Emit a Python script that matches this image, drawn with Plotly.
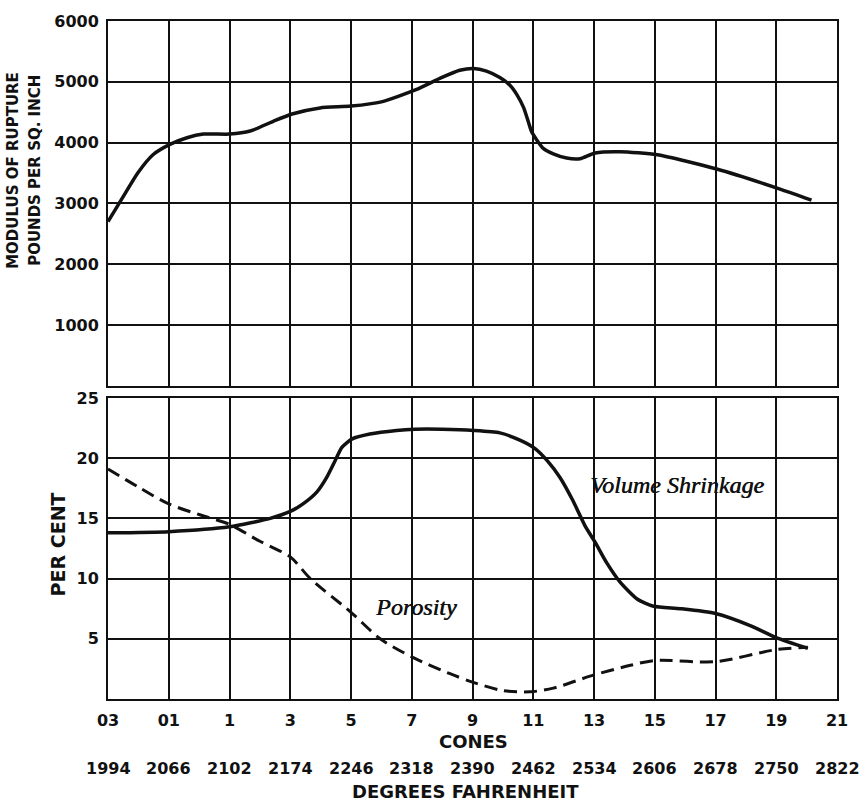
import plotly.graph_objects as go

# Cone numbers along the bottom axis, with the matching temperatures
cones = ["03", "01", "1", "3", "5", "7", "9", "11", "13", "15", "17", "19", "21"]
degrees_f = ["1994", "2066", "2102", "2174", "2246", "2318", "2390",
             "2462", "2534", "2606", "2678", "2750", "2822"]

# Modulus of rupture (lb per sq. inch), x given as position on the cone scale
modulus_pos = [0, 0.25, 0.49, 0.74, 1.02, 1.3, 1.57, 2.0, 2.34, 2.72, 3.03,
               3.49, 4.0, 4.5, 5.07, 5.47, 5.79, 6.02, 6.23, 6.45,
               6.62, 6.73, 6.84, 6.92, 6.97, 7.06, 7.17, 7.33, 7.55, 7.77,
               8.02, 8.43, 9.04, 10.02, 11.05, 11.58]
modulus = [2700, 3110, 3500, 3800, 3970, 4080, 4140, 4140, 4190, 4350, 4470,
           4570, 4600, 4670, 4870, 5060, 5190, 5220, 5175, 5070,
           4940, 4790, 4580, 4340, 4185, 4040, 3900, 3815, 3745, 3735,
           3830, 3850, 3800, 3565, 3240, 3055]

# Volume shrinkage (per cent)
shrink_pos = [0, 1, 2, 2.67, 3.01, 3.21, 3.44, 3.6, 3.74, 3.85, 4.02, 4.31,
              4.75, 5.05, 5.5, 6.02, 6.45, 6.78, 7.03, 7.23, 7.44, 7.65, 7.85,
              8.02, 8.21, 8.43, 8.71, 8.98, 9.42, 10.0, 10.57, 11.0, 11.52]
shrinkage = [13.8, 13.9, 14.3, 15.0, 15.6, 16.2, 17.2, 18.4, 19.8, 20.9,
             21.6, 22.0, 22.3, 22.4, 22.4, 22.3, 22.1, 21.5, 20.8, 19.8, 18.4,
             16.5, 14.4, 13.0, 11.3, 9.7, 8.3, 7.7, 7.5, 7.1, 6.1, 5.1, 4.2]

# Porosity (per cent)
porosity_pos = [0, 0.5, 1, 1.51, 2, 2.5, 3, 3.33, 4, 4.48, 5, 5.63, 6, 6.5,
                6.95, 7.33, 8, 8.6, 9, 10, 11, 11.52]
porosity = [19.1, 17.6, 16.2, 15.3, 14.5, 13.1, 11.8, 10.0, 7.2, 5.0, 3.5, 2.1,
            1.4, 0.7, 0.6, 0.9, 2.0, 2.8, 3.2, 3.1, 4.1, 4.3]

INK = "#111111"
SANS = "DejaVu Sans"
SERIF = "Liberation Serif"
tick_font = dict(family=SANS, size=16, color=INK, weight="bold")

fig = go.Figure()

fig.add_trace(go.Scatter(
    x=modulus_pos, y=modulus, mode="lines", xaxis="x", yaxis="y",
    line=dict(color=INK, width=3.5, shape="spline", smoothing=0.6),
    showlegend=False, hoverinfo="skip"))

fig.add_trace(go.Scatter(
    x=shrink_pos, y=shrinkage, mode="lines", xaxis="x2", yaxis="y2",
    line=dict(color=INK, width=3.5, shape="spline", smoothing=0.6),
    showlegend=False, hoverinfo="skip"))

fig.add_trace(go.Scatter(
    x=porosity_pos, y=porosity, mode="lines", xaxis="x2", yaxis="y2",
    line=dict(color=INK, width=3, shape="spline", smoothing=0.8,
              dash="13px,7px"),
    showlegend=False, hoverinfo="skip"))

grid = dict(showgrid=True, gridcolor=INK, gridwidth=1.6, zeroline=False,
            showline=True, linecolor=INK, linewidth=2, mirror=True, ticks="")

fig.update_layout(
    width=863, height=803,
    margin=dict(l=108, r=26, t=15, b=104),
    paper_bgcolor="white", plot_bgcolor="white",
    xaxis=dict(domain=[0, 1], anchor="y", range=[0, 12],
               tickvals=list(range(13)), showticklabels=False, **grid),
    yaxis=dict(domain=[0.462, 1], anchor="x", range=[0, 6000],
               tickvals=[1000, 2000, 3000, 4000, 5000, 6000],
               ticktext=["1000", "2000", "3000", "4000", "5000", "6000"],
               tickfont=tick_font, ticklabelstandoff=4, **grid),
    xaxis2=dict(domain=[0, 1], anchor="y2", range=[0, 12],
                tickvals=list(range(13)), ticktext=cones,
                tickfont=tick_font, ticklabelstandoff=6, **grid),
    yaxis2=dict(domain=[0, 0.444], anchor="x2", range=[0, 25],
                tickvals=[5, 10, 15, 20, 25],
                tickfont=tick_font, ticklabelstandoff=4, **grid),
)

annotations = []
for i, d in enumerate(degrees_f):
    annotations.append(dict(x=i, xref="x2", y=0, yref="paper", yshift=-69,
                            text=d, showarrow=False, xanchor="center",
                            yanchor="middle", font=tick_font))

title_font = dict(family=SANS, size=18, color=INK, weight="bold")
label_font = dict(family=SERIF, size=24, color=INK, style="italic",
                  shadow="0.6px 0px 0px #111111")
annotations += [
    dict(x=0.502, xref="paper", y=0, yref="paper", yshift=-42, text="CONES",
         showarrow=False, xanchor="center", yanchor="middle", font=title_font),
    dict(x=0.49, xref="paper", y=0, yref="paper", yshift=-92,
         text="DEGREES FAHRENHEIT", showarrow=False, xanchor="center",
         yanchor="middle", font=title_font),
    dict(x=0, xref="paper", xshift=-95, y=0.779, yref="paper",
         text="MODULUS OF RUPTURE", textangle=-90, showarrow=False,
         xanchor="center", yanchor="middle",
         font=dict(family=SANS, size=15, color=INK, weight="bold")),
    dict(x=0, xref="paper", xshift=-73, y=0.779, yref="paper",
         text="POUNDS PER SQ. INCH", textangle=-90, showarrow=False,
         xanchor="center", yanchor="middle",
         font=dict(family=SANS, size=15, color=INK, weight="bold")),
    dict(x=0, xref="paper", xshift=-50, y=0.228, yref="paper",
         text="PER CENT", textangle=-90, showarrow=False,
         xanchor="center", yanchor="middle",
         font=dict(family=SANS, size=19, color=INK, weight="bold")),
    dict(x=9.37, xref="x2", y=17.8, yref="y2", text="Volume Shrinkage",
         showarrow=False, xanchor="center", yanchor="middle", font=label_font),
    dict(x=5.07, xref="x2", y=7.6, yref="y2", text="Porosity",
         showarrow=False, xanchor="center", yanchor="middle", font=label_font),
]
fig.update_layout(annotations=annotations)

fig.write_html("out.html")
